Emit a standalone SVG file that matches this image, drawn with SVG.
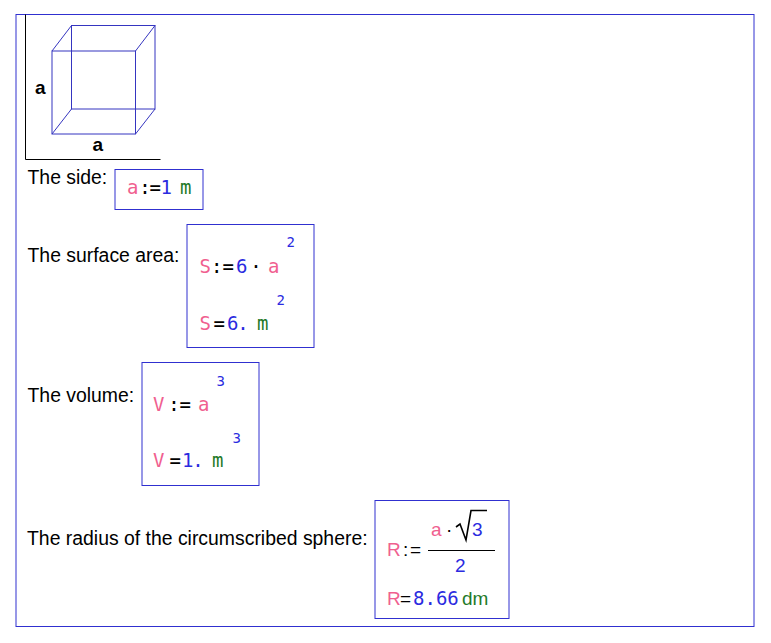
<svg xmlns="http://www.w3.org/2000/svg" width="771" height="643" viewBox="0 0 771 643">
<style>
.frame{fill:none;stroke:#3030d0;stroke-width:1}
.cube{fill:none;stroke:#3535c0;stroke-width:1}
.ax{fill:none;stroke:#000;stroke-width:1}
.lbl{font-family:"Liberation Sans",Arial,sans-serif;font-size:19.4px;fill:#000}
.cl{font-family:"Liberation Sans",Arial,sans-serif;font-size:19px;font-weight:bold;fill:#000}
.m{font-family:"DejaVu Sans Mono","Liberation Mono",monospace;font-size:19px}
.s{font-family:"Liberation Sans",Arial,sans-serif;font-size:19px}
.sup{font-family:"DejaVu Sans Mono","Liberation Mono",monospace;font-size:14px;fill:#2b2be0}
.p{fill:#f0608f}
.b{fill:#2b2be0}
.g{fill:#1f7a2a}
.k{fill:#000}
</style>
<rect x="16" y="14.5" width="738" height="612" fill="#fff" class="frame"/>
<g id="cube">
<polyline class="ax" points="25.5,14.5 25.5,159.5 160.5,159.5"/>
<rect class="cube" x="71.5" y="25.5" width="83.5" height="83.5"/>
<rect class="cube" x="52" y="51" width="83.5" height="83"/>
<line class="cube" x1="52" y1="51" x2="71.5" y2="25.5"/>
<line class="cube" x1="135.5" y1="51" x2="155" y2="25.5"/>
<line class="cube" x1="52" y1="134" x2="71.5" y2="109"/>
<line class="cube" x1="135.5" y1="134" x2="155" y2="109"/>
<text class="cl" x="35" y="94">a</text>
<text class="cl" x="92.5" y="150.5">a</text>
</g>
<g id="side">
<text class="lbl" x="27.5" y="183.5">The side:</text>
<rect class="frame" x="115" y="169.5" width="88" height="40"/>
<text class="m" y="193.5"><tspan class="p" x="127">a</tspan><tspan class="k" x="139.3">:</tspan><tspan class="k" x="149.5">=</tspan><tspan class="b" x="160.5">1</tspan><tspan class="g" x="180">m</tspan></text>
</g>
<g id="surface">
<text class="lbl" x="27.5" y="262">The surface area:</text>
<rect class="frame" x="187" y="224.5" width="127" height="123"/>
<text class="m" y="273"><tspan class="p" x="199.5">S</tspan><tspan class="k" x="211">:</tspan><tspan class="k" x="222.5">=</tspan><tspan class="b" x="236">6</tspan><tspan class="k" x="250.3">·</tspan><tspan class="p" x="268">a</tspan></text>
<text class="sup" x="286.5" y="247">2</text>
<text class="m" y="330"><tspan class="p" x="199.5">S</tspan><tspan class="k" x="213.5">=</tspan><tspan class="b" x="227">6</tspan><tspan class="b" x="237.3">.</tspan><tspan class="g" x="257">m</tspan></text>
<text class="sup" x="276.5" y="305">2</text>
</g>
<g id="volume">
<text class="lbl" x="27.5" y="402">The volume:</text>
<rect class="frame" x="142" y="362.5" width="117" height="123"/>
<text class="m" y="411"><tspan class="p" x="153">V</tspan><tspan class="k" x="168.3">:</tspan><tspan class="k" x="179.5">=</tspan><tspan class="p" x="198">a</tspan></text>
<text class="sup" x="216.5" y="386">3</text>
<text class="m" y="467"><tspan class="p" x="153">V</tspan><tspan class="k" x="169.5">=</tspan><tspan class="b" x="182">1</tspan><tspan class="b" x="192.3">.</tspan><tspan class="g" x="212">m</tspan></text>
<text class="sup" x="232.5" y="443">3</text>
</g>
<g id="radius">
<text class="lbl" x="27" y="545">The radius of the circumscribed sphere:</text>
<rect class="frame" x="375" y="500.5" width="134" height="118"/>
<text class="s" y="556"><tspan class="p" x="387">R</tspan><tspan class="k" x="403">:</tspan><tspan class="k" x="410">=</tspan></text>
<line x1="428" y1="550.5" x2="495" y2="550.5" stroke="#000" stroke-width="1.2"/>
<text class="s" y="536"><tspan class="p" x="431">a</tspan><tspan class="k" x="446">·</tspan><tspan class="b" x="472">3</tspan></text>
<polyline points="456,527 460,524 466,540 471,510.5 487,510.5" fill="none" stroke="#000" stroke-width="1.6"/>
<text class="s b" x="455" y="572">2</text>
<text class="s p" x="387" y="605">R</text>
<text class="s k" x="400" y="605">=</text>
<text class="m b" x="413" y="605">8.66</text>
<text class="s g" x="462" y="605">dm</text>
</g>
</svg>
